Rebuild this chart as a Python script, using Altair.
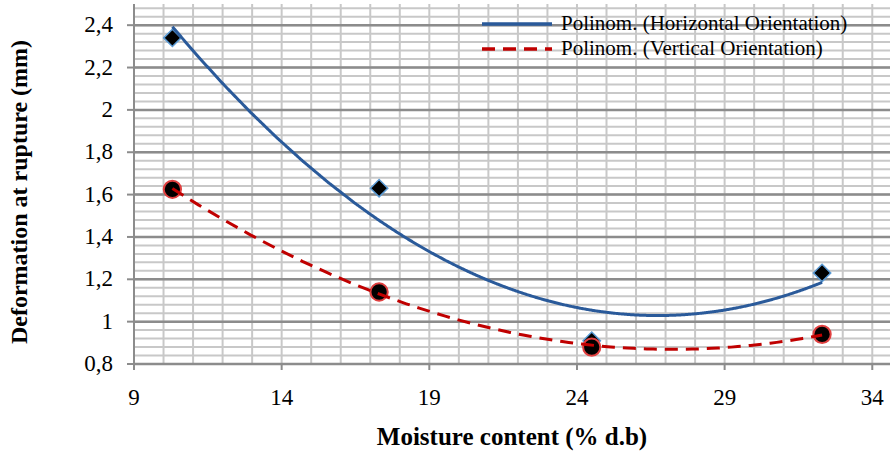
import altair as alt
import pandas as pd

# Data
moisture = [10.3, 17.3, 24.5, 32.3]
horizontal = [2.34, 1.63, 0.91, 1.23]
vertical = [1.625, 1.14, 0.88, 0.94]
series_names = ["Horizontal Orientation", "Vertical Orientation"]
legend_labels = ["Polinom. (Horizontal Orientation)", "Polinom. (Vertical Orientation)"]

# Axis ticks and grid line positions
x_ticks = [9, 14, 19, 24, 29, 34]
x_grid = list(range(9, 35))
y_ticks = [0.8, 1.0, 1.2, 1.4, 1.6, 1.8, 2.0, 2.2, 2.4]
y_minor = [round(0.8 + 0.04 * i, 2) for i in range(43)]
x_title = "Moisture content (% d.b)"
y_title = "Deformation at rupture  (mm)"

rows = []
for xv, h, v in zip(moisture, horizontal, vertical):
    rows.append({"x": xv, "y": h, "series": series_names[0]})
    rows.append({"x": xv, "y": v, "series": series_names[1]})
df = pd.DataFrame(rows)

FONT = "Liberation Serif"
GRID_MAJOR = "#8c8c8c"
GRID_MINOR = "#c8c8c8"

x_scale = alt.Scale(domain=[9, 34.6], nice=False, zero=False)
y_scale = alt.Scale(domain=[0.8, 2.5], nice=False, zero=False)

def X(field):
    return alt.X(field, scale=x_scale, axis=None)

def Y(field):
    return alt.Y(field, scale=y_scale, axis=None)

xg = pd.DataFrame({"gx": x_grid})
xt = pd.DataFrame({"gx": x_ticks})
yg = pd.DataFrame({"gy": y_minor})
yt = pd.DataFrame({"gy": y_ticks})

# Grid lines
vgrid = alt.Chart(xg).mark_rule(color=GRID_MINOR, strokeWidth=2).encode(x=X("gx:Q"))
hgrid_minor = alt.Chart(yg).mark_rule(color=GRID_MINOR, strokeWidth=2).encode(y=Y("gy:Q"))
hgrid_major = alt.Chart(yt).mark_rule(color=GRID_MAJOR, strokeWidth=2.5).encode(y=Y("gy:Q"))

# Axis lines, ticks and labels
y_domain = alt.Chart(pd.DataFrame({"gx": [x_ticks[0]]})).mark_rule(
    color=GRID_MAJOR, strokeWidth=2
).encode(x=X("gx:Q"))

y_tick_marks = alt.Chart(yt).mark_rule(color=GRID_MAJOR, strokeWidth=2).encode(
    y=Y("gy:Q"), x=alt.value(-7), x2=alt.value(0)
)
x_tick_marks = alt.Chart(xt).mark_rule(color=GRID_MAJOR, strokeWidth=2).encode(
    x=X("gx:Q"), y=alt.value(360), y2=alt.value(366)
)

y_labels = alt.Chart(yt).transform_calculate(
    lab="replace(format(datum.gy, '.2~f'), '.', ',')"
).mark_text(
    align="right", baseline="middle", font=FONT, fontSize=23, color="black"
).encode(y=Y("gy:Q"), x=alt.value(-21), text="lab:N")

x_labels = alt.Chart(xt).mark_text(
    align="center", baseline="top", font=FONT, fontSize=23, color="black"
).encode(x=X("gx:Q"), y=alt.value(383), text="gx:N")

x_title_mark = alt.Chart(pd.DataFrame({"t": [x_title]})).mark_text(
    align="center", baseline="middle", font=FONT, fontSize=25, fontWeight="bold", color="black"
).encode(x=alt.value(378), y=alt.value(433), text="t:N")

y_title_mark = alt.Chart(pd.DataFrame({"t": [y_title]})).mark_text(
    align="center", baseline="middle", angle=270, font=FONT, fontSize=24, fontWeight="bold", color="black"
).encode(x=alt.value(-114), y=alt.value(188), text="t:N")

base = alt.Chart(df)

diamonds = base.transform_filter(
    alt.datum.series == series_names[0]
).mark_point(
    shape="diamond", filled=True, fill="black", stroke="#5b9bd5", strokeWidth=1.5, size=300, opacity=1
).encode(x=X("x:Q"), y=Y("y:Q"))

circles = base.transform_filter(
    alt.datum.series == series_names[1]
).mark_point(
    shape="circle", filled=True, fill="black", stroke="#e04040", strokeWidth=2, size=300, opacity=1
).encode(x=X("x:Q"), y=Y("y:Q"))

trend = base.transform_regression(
    "x", "y", method="poly", order=2, groupby=["series"]
).transform_calculate(
    label="'Polinom. (' + datum.series + ')'"
).mark_line(strokeWidth=3).encode(
    x=X("x:Q"),
    y=Y("y:Q"),
    color=alt.Color(
        "label:N",
        scale=alt.Scale(domain=legend_labels, range=["#2a5a9a", "#c00000"]),
        legend=alt.Legend(
            title=None,
            orient="none",
            legendX=346,
            legendY=10,
            symbolType="stroke",
            symbolSize=4900,
            symbolStrokeWidth=3.5,
            clipHeight=20,
            labelFont=FONT,
            labelFontSize=21,
            labelLimit=500,
            labelColor="black",
            labelOffset=7,
            rowPadding=4,
            padding=0,
        ),
    ),
    strokeDash=alt.StrokeDash(
        "label:N",
        scale=alt.Scale(domain=legend_labels, range=[[1, 0], [13, 8]]),
        legend=None,
    ),
)

chart = alt.layer(
    vgrid, hgrid_minor, hgrid_major, y_domain, y_tick_marks, x_tick_marks,
    y_labels, x_labels, x_title_mark, y_title_mark,
    diamonds, circles, trend,
).properties(
    width=756,
    height=360,
    padding={"left": 134, "top": 4, "right": 0, "bottom": 90},
    autosize=alt.AutoSizeParams(type="none"),
    background="white",
).configure_view(stroke="transparent")

chart.save("out.html", embed_options={"renderer": "svg", "actions": False})
